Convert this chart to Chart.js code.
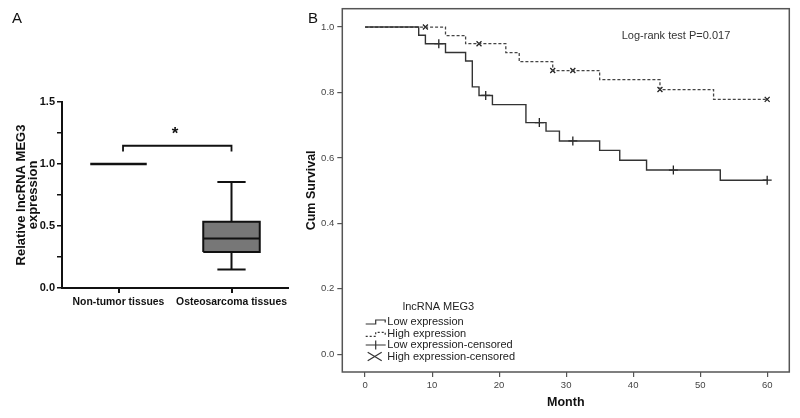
<!DOCTYPE html>
<html>
<head>
<meta charset="utf-8">
<script src="https://cdn.jsdelivr.net/npm/chart.js@4.4.1/dist/chart.umd.min.js"></script>
<style>
    html, body { margin: 0; padding: 0; background: #fff; }
    body { width: 800px; height: 418px; position: relative; overflow: hidden; font-family: Arial, "Liberation Sans", sans-serif; }
    .panel { position: absolute; top: 0; }
    #boxWrap { left: 0; width: 300px; height: 418px; }
    #kmWrap { left: 300px; width: 500px; height: 418px; }
    .tag { position: absolute; font-size: 15px; line-height: 15px; color: #111; z-index: 2; }
</style>
</head>
<body>

<div class="panel" id="boxWrap"><canvas id="boxChart" width="300" height="418"></canvas></div>
<div class="panel" id="kmWrap"><canvas id="kmChart" width="500" height="418"></canvas></div>
<div class="tag" style="left:12px; top:10px;">A</div>
<div class="tag" style="left:308px; top:10px;">B</div>

<script>

// ---------- Panel A data (relative expression)

const groups = ["Non-tumor tissues", "Osteosarcoma tissues"];

const nonTumorValue = 1.0;

// min, q1, median, q3, max
const osteoBox = [0.15, 0.29, 0.40, 0.535, 0.855];

const bracketLevels = [1.1, 1.147];

const starLevel = 1.2;

const expressionTicks = [0, 0.25, 0.5, 0.75, 1.0, 1.25, 1.5];


// ---------- Panel B data (Kaplan-Meier)

const lowMonths = [0, 8, 9, 12, 15, 16, 17, 19, 24, 27, 29, 35, 38, 42, 53, 60];
const lowSurvival = [1, 0.975, 0.949, 0.922, 0.896, 0.817, 0.791, 0.763, 0.708, 0.682, 0.652, 0.623, 0.593, 0.563, 0.532, 0.532];

const highMonths = [0, 12, 15, 21, 23, 28, 35, 44, 52, 60];
const highSurvival = [1, 0.974, 0.949, 0.922, 0.894, 0.867, 0.839, 0.809, 0.779, 0.779];

const lowCensorMonths = [11, 18, 26, 31, 46, 60];
const lowCensorSurvival = [0.949, 0.791, 0.708, 0.652, 0.563, 0.532];

const highCensorMonths = [9, 17, 28, 31, 44, 60];
const highCensorSurvival = [1, 0.949, 0.867, 0.867, 0.809, 0.779];

const monthTicks = [0, 10, 20, 30, 40, 50, 60];
const survivalTicks = [0, 0.2, 0.4, 0.6, 0.8, 1.0];

const seriesNames = ["Low expression", "High expression", "Low expression-censored", "High expression-censored"];
const legendTitle = "lncRNA MEG3";
const logRankText = "Log-rank test P=0.017";


const toPoints = (xs, ys) => xs.map((x, i) => ({ x: x, y: ys[i] }));


// ---------- Panel A: box plot

const half = 0.25;
const capHalf = 0.125;
const [wMin, q1, med, q3, wMax] = osteoBox;

const sigStar = {
    id: "sigStar",
    afterDatasetsDraw(chart) {
        const { ctx, scales } = chart;
        ctx.save();
        ctx.font = "bold 17px Arial";
        ctx.fillStyle = "#111";
        ctx.textAlign = "center";
        ctx.textBaseline = "alphabetic";
        ctx.fillText("*", scales.x.getPixelForValue(1.5), scales.y.getPixelForValue(starLevel));
        ctx.restore();
    }
};

const boxChart = new Chart(document.getElementById("boxChart"), {

    type: "line",

    data: {
        datasets: [
            {   // median
                data: [{ x: 2 - half, y: med }, { x: 2 + half, y: med }]
            },
            {   // non-tumor reference
                data: [{ x: 1 - half, y: nonTumorValue }, { x: 1 + half, y: nonTumorValue }],
                borderWidth: 2.5
            },
            {   // whiskers + caps
                data: [
                    { x: 2, y: q3 }, { x: 2, y: wMax }, { x: 2, y: null },
                    { x: 2 - capHalf, y: wMax }, { x: 2 + capHalf, y: wMax }, { x: 2, y: null },
                    { x: 2, y: q1 }, { x: 2, y: wMin }, { x: 2, y: null },
                    { x: 2 - capHalf, y: wMin }, { x: 2 + capHalf, y: wMin }
                ]
            },
            {   // significance bracket
                data: [
                    { x: 1.04, y: bracketLevels[0] }, { x: 1.04, y: bracketLevels[1] },
                    { x: 2, y: bracketLevels[1] }, { x: 2, y: bracketLevels[0] }
                ],
                borderWidth: 1.8
            },
            {   // box
                data: [
                    { x: 2 - half, y: q1 }, { x: 2 + half, y: q1 }, { x: 2 + half, y: q3 },
                    { x: 2 - half, y: q3 }, { x: 2 - half, y: q1 }
                ],
                fill: "shape",
                backgroundColor: "#777777"
            }
        ]
    },

    options: {
        responsive: false,
        animation: false,
        layout: { padding: { left: 0, top: 102, right: 12, bottom: 100 } },
        plugins: { legend: { display: false }, tooltip: { enabled: false } },
        elements: {
            point: { radius: 0 },
            line: { borderColor: "#111", borderWidth: 2, tension: 0 }
        },
        scales: {
            x: {
                type: "linear",
                min: 0.5,
                max: 2.5,
                afterBuildTicks: s => { s.ticks = groups.map((g, i) => ({ value: i + 1 })); },
                afterFit: s => { s.height = 30; },
                grid: { drawOnChartArea: false, tickLength: 5, color: "#111", lineWidth: 2 },
                border: { color: "#111", width: 2 },
                ticks: {
                    color: "#111",
                    padding: 3,
                    font: { family: "Arial", weight: "bold", size: 10.4 },
                    callback: v => groups[v - 1]
                }
            },
            y: {
                min: 0,
                max: 1.5,
                afterBuildTicks: s => { s.ticks = expressionTicks.map(v => ({ value: v })); },
                afterFit: s => { s.width = 62; },
                grid: { drawOnChartArea: false, tickLength: 5, color: "#111", lineWidth: 1.5 },
                border: { color: "#111", width: 2 },
                ticks: {
                    color: "#111",
                    padding: 2,
                    font: { family: "Arial", weight: "bold", size: 11 },
                    callback: v => (Math.abs(v * 2 - Math.round(v * 2)) < 1e-6 ? v.toFixed(1) : "")
                },
                title: {
                    display: true,
                    text: ["Relative lncRNA MEG3", "expression"],
                    color: "#111",
                    padding: { top: 15, bottom: 0 },
                    font: { family: "Arial", weight: "bold", size: 13, lineHeight: 0.92 }
                }
            }
        }
    },

    plugins: [sigStar]
});


// ---------- Panel B: survival curves

const kmDecor = {
    id: "kmDecor",
    afterDatasetsDraw(chart) {
        const { ctx, chartArea: a } = chart;
        const ds = chart.data.datasets;
        ctx.save();

        // plot frame
        ctx.strokeStyle = "#555";
        ctx.lineWidth = 1.5;
        ctx.strokeRect(a.left, a.top, a.right - a.left, a.bottom - a.top);

        // log-rank text
        ctx.fillStyle = "#333";
        ctx.font = "11px Arial";
        ctx.textBaseline = "middle";
        ctx.textAlign = "left";
        ctx.fillText(logRankText, a.right - 167.6, a.top + 27.4);

        // legend
        const sx = a.left + 23.4;
        const tx = a.left + 45;
        const rows = [-50.3, -38, -27, -15.3].map(d => a.bottom + d);
        ctx.fillStyle = "#222";
        ctx.fillText(legendTitle, a.left + 60.4, a.bottom - 65.3);
        rows.forEach((y, i) => ctx.fillText(ds[i].label, tx, y));

        ctx.strokeStyle = "#333";
        ctx.lineWidth = 1.2;

        // step symbols
        [0, 1].forEach(i => {
            const y = rows[i];
            ctx.setLineDash(i === 0 ? [] : [2, 2]);
            ctx.beginPath();
            ctx.moveTo(sx, y + 2.3);
            ctx.lineTo(sx + 10, y + 2.3);
            ctx.lineTo(sx + 10, y - 1.7);
            ctx.lineTo(sx + 19.5, y - 1.7);
            ctx.lineTo(sx + 19.5, y + 0.8);
            ctx.stroke();
        });
        ctx.setLineDash([]);

        // censored symbols
        ctx.beginPath();
        ctx.moveTo(sx, rows[2]);
        ctx.lineTo(sx + 20, rows[2]);
        ctx.moveTo(sx + 10, rows[2] - 4.5);
        ctx.lineTo(sx + 10, rows[2] + 4.5);
        ctx.moveTo(sx + 2, rows[3] - 4.5);
        ctx.lineTo(sx + 16, rows[3] + 4);
        ctx.moveTo(sx + 2, rows[3] + 4);
        ctx.lineTo(sx + 16, rows[3] - 4.5);
        ctx.stroke();

        ctx.restore();
    }
};

const kmChart = new Chart(document.getElementById("kmChart"), {

    type: "line",

    data: {
        datasets: [
            {
                label: seriesNames[0],
                data: toPoints(lowMonths, lowSurvival),
                borderColor: "#333",
                borderWidth: 1.4,
                stepped: "before",
                pointRadius: 0
            },
            {
                label: seriesNames[1],
                data: toPoints(highMonths, highSurvival),
                borderColor: "#444",
                borderWidth: 1.3,
                borderDash: [3, 2],
                stepped: "before",
                pointRadius: 0
            },
            {
                label: seriesNames[2],
                data: toPoints(lowCensorMonths, lowCensorSurvival),
                showLine: false,
                pointStyle: "cross",
                pointRadius: 4.5,
                borderColor: "#222",
                borderWidth: 1.3
            },
            {
                label: seriesNames[3],
                data: toPoints(highCensorMonths, highCensorSurvival),
                showLine: false,
                pointStyle: "crossRot",
                pointRadius: 3.5,
                borderColor: "#222",
                borderWidth: 1.3
            }
        ]
    },

    options: {
        responsive: false,
        animation: false,
        layout: { padding: { left: 0, top: 8.3, right: 10.7, bottom: 0 } },
        plugins: { legend: { display: false }, tooltip: { enabled: false } },
        scales: {
            x: {
                type: "linear",
                min: -3.4,
                max: 63.3,
                afterBuildTicks: s => { s.ticks = monthTicks.map(v => ({ value: v })); },
                afterFit: s => { s.height = 46; },
                grid: { drawOnChartArea: false, tickLength: 5, color: "#555", lineWidth: 1.2 },
                border: { display: false },
                ticks: { color: "#444", padding: 3, font: { family: "Arial", size: 9.5 } },
                title: {
                    display: true,
                    text: "Month",
                    color: "#111",
                    padding: { top: 0, bottom: 7.5 },
                    font: { family: "Arial", weight: "bold", size: 12.5 }
                }
            },
            y: {
                min: -0.054,
                max: 1.056,
                afterBuildTicks: s => { s.ticks = survivalTicks.map(v => ({ value: v })); },
                afterFit: s => { s.width = 42.3; },
                grid: { drawOnChartArea: false, tickLength: 5, color: "#555", lineWidth: 1.2 },
                border: { display: false },
                ticks: { color: "#444", padding: 3, font: { family: "Arial", size: 9.5 }, callback: v => v.toFixed(1) },
                title: {
                    display: true,
                    text: "Cum Survival",
                    color: "#111",
                    padding: { top: 4.5, bottom: 0 },
                    font: { family: "Arial", weight: "bold", size: 12.5 }
                }
            }
        }
    },

    plugins: [kmDecor]
});

</script>
</body>
</html>
